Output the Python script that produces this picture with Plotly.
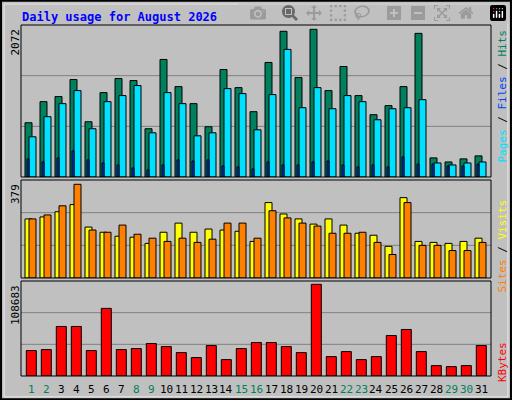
import plotly.graph_objects as go

days = list(range(1, 32))
weekend = [1, 2, 8, 9, 15, 16, 22, 23, 29, 30]

hits = [761, 1057, 1128, 1367, 775, 1184, 1381, 1353, 677, 1649, 1268, 1029, 705, 1508, 1254, 916,
        1607, 2044, 1395, 2072, 1212, 1550, 1142, 874, 1001, 1268, 2015, 268, 211, 254, 296]
files = [564, 846, 1029, 1212, 677, 1057, 1142, 1283, 620, 1184, 1029, 578, 620, 1240, 1170, 662,
         1156, 1790, 972, 1254, 958, 1142, 1057, 803, 958, 972, 1085, 197, 169, 197, 211]
pages = [254, 211, 268, 366, 240, 197, 169, 127, 99, 169, 240, 225, 240, 155, 141, 113,
         211, 169, 169, 211, 225, 169, 141, 169, 141, 282, 183, 183, 155, 155, 183]
sites = [239, 247, 268, 297, 206, 185, 169, 165, 140, 185, 222, 185, 198, 194, 189, 148,
         305, 259, 239, 218, 239, 214, 181, 173, 128, 325, 148, 144, 140, 148, 161]
visits = [239, 255, 292, 379, 194, 185, 214, 177, 161, 148, 161, 144, 157, 222, 222, 161,
          272, 243, 222, 210, 181, 181, 185, 144, 95, 305, 132, 132, 111, 111, 144]
kbytes = [30150, 31340, 58710, 58710, 30150, 80130, 31340, 32530, 38480, 34910, 27770, 21820,
          36100, 19440, 32530, 39670, 39670, 34910, 27770, 108683, 23010, 28960, 19440, 23010,
          48000, 55140, 28960, 12300, 11110, 12300, 36100]

W, H = 512, 400
BG = "#c0c0c0"
LINE = dict(color="black", width=1)


def py(p):
    # pixel row -> paper y
    return 1 - p / H


def px_(p):
    return p / W


fig = go.Figure()


def bar(y, color, offset, width, yaxis, name):
    fig.add_trace(go.Bar(x=days, y=y, marker=dict(color=color, line=LINE), offset=offset / 15,
                         width=width / 15, xaxis="x", yaxis=yaxis, name=name, hoverinfo="y"))


bar(hits, "#00805c", -5.5, 7, "y", "Hits")
bar(files, "#00e0ff", -1.5, 7, "y", "Files")
bar(pages, "#0040ff", -3.5, 2, "y", "Pages")
bar(sites, "#ffff00", -5.5, 7, "y2", "Sites")
bar(visits, "#ff8000", -1.5, 7, "y2", "Visits")
bar(kbytes, "#ff0000", -4.2, 10, "y3", "KBytes")

x0, x1 = 21, 491
xr = [1 + (x0 - 30.5) / 15, 1 + (x1 - 30.5) / 15]

panels = [  # top, bottom pixel rows, pixel row of max value
    (25, 177, 29.3, max(hits)),
    (180, 278, 184.3, max(visits)),
    (281, 376, 284.3, max(kbytes)),
]

layout = dict(
    width=W, height=H, margin=dict(l=0, r=0, t=0, b=0),
    paper_bgcolor=BG, plot_bgcolor=BG, showlegend=False, barmode="overlay",
    font=dict(family="DejaVu Sans Mono", size=11, color="black"),
    xaxis=dict(domain=[px_(x0), px_(x1)], range=xr, showticklabels=False,
               showgrid=False, zeroline=False, ticks="", anchor="y3"),
)
shapes = []
for i, (top, bot, ymaxp, vmax) in enumerate(panels):
    key = "yaxis" if i == 0 else "yaxis%d" % (i + 1)
    rng = vmax * (bot - top) / (bot - ymaxp)
    layout[key] = dict(domain=[py(bot), py(top)], range=[0, rng], showgrid=False,
                       showticklabels=False, zeroline=False, anchor="x")
    for f in (1 / 3, 2 / 3):
        yy = bot - (bot - top) * f
        shapes.append(dict(type="line", xref="paper", yref="paper", x0=px_(x0), x1=px_(x1),
                           y0=py(yy), y1=py(yy), line=dict(color="#808080", width=1), layer="below"))
    shapes.append(dict(type="rect", xref="paper", yref="paper", x0=px_(x0), x1=px_(x1),
                       y0=py(bot), y1=py(top), line=dict(color="black", width=1)))

# outer border
shapes.append(dict(type="rect", xref="paper", yref="paper", x0=0.002, x1=0.998, y0=0.002, y1=0.998,
                   line=dict(color="black", width=2)))
shapes.append(dict(type="rect", xref="paper", yref="paper", x0=0.008, x1=0.992, y0=0.008, y1=0.99,
                   line=dict(color="#e8e8e8", width=1)))
layout["shapes"] = shapes

ann = [
    dict(text="<b>Daily usage for August 2026</b>", x=px_(20), y=py(8), xanchor="left", yanchor="top",
         font=dict(size=12, color="#0000ff")),
    dict(text="2072", x=px_(15), y=py(27), textangle=-90, yanchor="top", xanchor="center"),
    dict(text="379", x=px_(15), y=py(182), textangle=-90, yanchor="top", xanchor="center"),
    dict(text="108683", x=px_(15), y=py(283), textangle=-90, yanchor="top", xanchor="center"),
    dict(text="<span style='color:#00e0ff'>Pages</span> / <span style='color:#0040ff'>Files</span>"
              " / <span style='color:#00805c'>Hits</span>",
         x=px_(502), y=py(28), textangle=-90, yanchor="top", xanchor="center"),
    dict(text="<span style='color:#ff8000'>Sites</span> / <span style='color:#ffff00'>Visits</span>",
         x=px_(502), y=py(198), textangle=-90, yanchor="top", xanchor="center"),
    dict(text="<span style='color:#ff0000'>KBytes</span>",
         x=px_(502), y=py(340), textangle=-90, yanchor="top", xanchor="center"),
]
for a in ann:
    a.update(xref="paper", yref="paper", showarrow=False)
for d in days:
    ann.append(dict(text=str(d), x=d + 0.05, y=py(389), xref="x", yref="paper", showarrow=False,
                    xanchor="center", yanchor="middle",
                    font=dict(size=11, color="#00805c" if d in weekend else "black")))
layout["annotations"] = ann

fig.update_layout(**layout)
fig.write_html("out.html", post_script="document.body.style.margin='0';")
